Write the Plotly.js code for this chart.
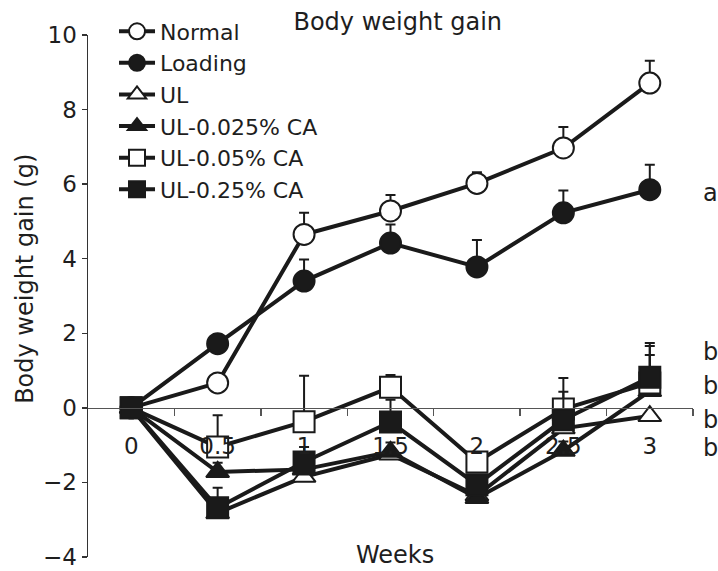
<!DOCTYPE html>
<html>
<head>
<meta charset="utf-8">
<script src="https://cdn.plot.ly/plotly-3.0.1.min.js"></script>
<style>html,body{margin:0;padding:0;background:#fff;}#chart{width:718px;height:571px;}</style>
</head>
<body>
<div id="chart"></div>
<script>
// ---- data ----
const weeks = [0, 0.5, 1, 1.5, 2, 2.5, 3];
const weekLabels = ["0", "0.5", "1", "1.5", "2", "2.5", "3"];
const minorWeeks = [0.25, 0.75, 1.25, 1.75, 2.25, 2.75, 3.25];
const yTicks = [-4, -2, 0, 2, 4, 6, 8, 10];

const seriesNames = ["Normal", "Loading", "UL", "UL-0.025% CA", "UL-0.05% CA", "UL-0.25% CA"];
const normal     = [0, 0.67, 4.65, 5.28, 6.02, 6.97, 8.71];
const normalErr  = [0, 0, 0.58, 0.43, 0.30, 0.56, 0.60];
const loading    = [0, 1.72, 3.40, 4.42, 3.78, 5.23, 5.85];
const loadingErr = [0, 0, 0.58, 0.50, 0.72, 0.60, 0.67];
const ul         = [0, -2.82, -1.85, -1.25, -2.35, -0.55, -0.22];
const ulErr      = [0, 0, 0, 0, 0, 0, 0];
const ul025      = [0, -1.72, -1.65, -1.18, -2.42, -1.15, 0.45];
const ul025Err   = [0, 0.25, 0.25, 0.25, 0.25, 0.25, 0.97];
const ul05       = [0, -1.05, -0.37, 0.55, -1.45, -0.03, 0.67];
const ul05Err    = [0, 0.85, 1.23, 0.33, 0.25, 0.83, 0.99];
const ul25       = [0, -2.68, -1.45, -0.38, -2.06, -0.32, 0.82];
const ul25Err    = [0, 0.54, 0.40, 0.60, 0.25, 0.75, 0.92];

const groupLetters = ["a", "b", "b", "b", "b"];
const letterY = [5.76, 1.50, 0.59, -0.32, -1.07];

// ---- styling ----
const INK = "#1a1a1a";
const TXT = "#1e1e1e";
const FONT = "DejaVu Sans, Verdana, sans-serif";
const values = [normal, loading, ul, ul025, ul05, ul25];
const errs = [normalErr, loadingErr, ulErr, ul025Err, ul05Err, ul25Err];
const symbols = ["circle", "circle", "triangle-up", "triangle-up", "square", "square"];
const fills = ["#ffffff", INK, "#ffffff", INK, "#ffffff", INK];
const sizes = [21, 21, 20, 20, 21, 21];

const traces = seriesNames.map((name, i) => ({
  type: "scatter",
  mode: "lines+markers",
  name: name,
  x: weeks,
  y: values[i],
  cliponaxis: true,
  line: {color: INK, width: 4},
  marker: {symbol: symbols[i], size: sizes[i], color: fills[i], line: {color: INK, width: 2}},
  error_y: {type: "data", symmetric: false, array: errs[i], arrayminus: weeks.map(() => 0),
            color: INK, thickness: 2, width: 5}
}));

const annotations = [
  {text: "Weeks", xref: "paper", yref: "paper", x: 0.507, y: -0.027, xanchor: "center", yanchor: "bottom",
   showarrow: false, font: {family: FONT, size: 24, color: TXT}},
  {text: "Body weight gain (g)", xref: "paper", yref: "paper", x: -0.104, y: 0.533, textangle: -90,
   xanchor: "center", yanchor: "middle", showarrow: false, font: {family: FONT, size: 24, color: TXT}}
].concat(groupLetters.map((t, i) => ({
  text: t, xref: "paper", yref: "y", x: 1.013, y: letterY[i], xanchor: "left", yanchor: "middle",
  showarrow: false, font: {family: FONT, size: 24, color: TXT}
})));

const layout = {
  width: 718, height: 571,
  margin: {l: 88, r: 25, t: 35, b: 14, pad: 0, autoexpand: false},
  paper_bgcolor: "#fff", plot_bgcolor: "#fff",
  font: {family: FONT, size: 20, color: TXT},
  title: {text: "Body weight gain", xref: "container", yref: "container", x: 0.554, y: 0.962,
          xanchor: "center", yanchor: "middle", font: {family: FONT, size: 24, color: TXT}},
  showlegend: true,
  legend: {x: 0.043, y: 1.047, xanchor: "left", yanchor: "top", bgcolor: "rgba(0,0,0,0)",
           font: {family: FONT, size: 22, color: TXT}, itemwidth: 36, tracegroupgap: 0},
  xaxis: {
    range: [-0.25, 3.25], anchor: "free", position: 4 / 14, automargin: false,
    showline: true, linecolor: "#555", linewidth: 1.5, zeroline: false, showgrid: false,
    tickmode: "array", tickvals: weeks, ticktext: weekLabels,
    ticks: "outside", ticklen: 17, tickcolor: "rgba(0,0,0,0)",
    minor: {tickmode: "array", tickvals: minorWeeks, ticks: "outside", ticklen: 7, tickwidth: 1.5, tickcolor: "#555", showgrid: false},
    tickfont: {family: FONT, size: 23, color: TXT}
  },
  yaxis: {
    range: [-4, 10], automargin: false, showline: true, linecolor: "#333", linewidth: 1.5, zeroline: false, showgrid: false,
    tickmode: "array", tickvals: yTicks, ticks: "outside", ticklen: 5, tickwidth: 1.5, tickcolor: "#333",
    tickfont: {family: FONT, size: 23, color: TXT}
  },
  annotations: annotations
};

Plotly.newPlot("chart", traces, layout, {displayModeBar: false, staticPlot: true});
</script>
</body>
</html>
